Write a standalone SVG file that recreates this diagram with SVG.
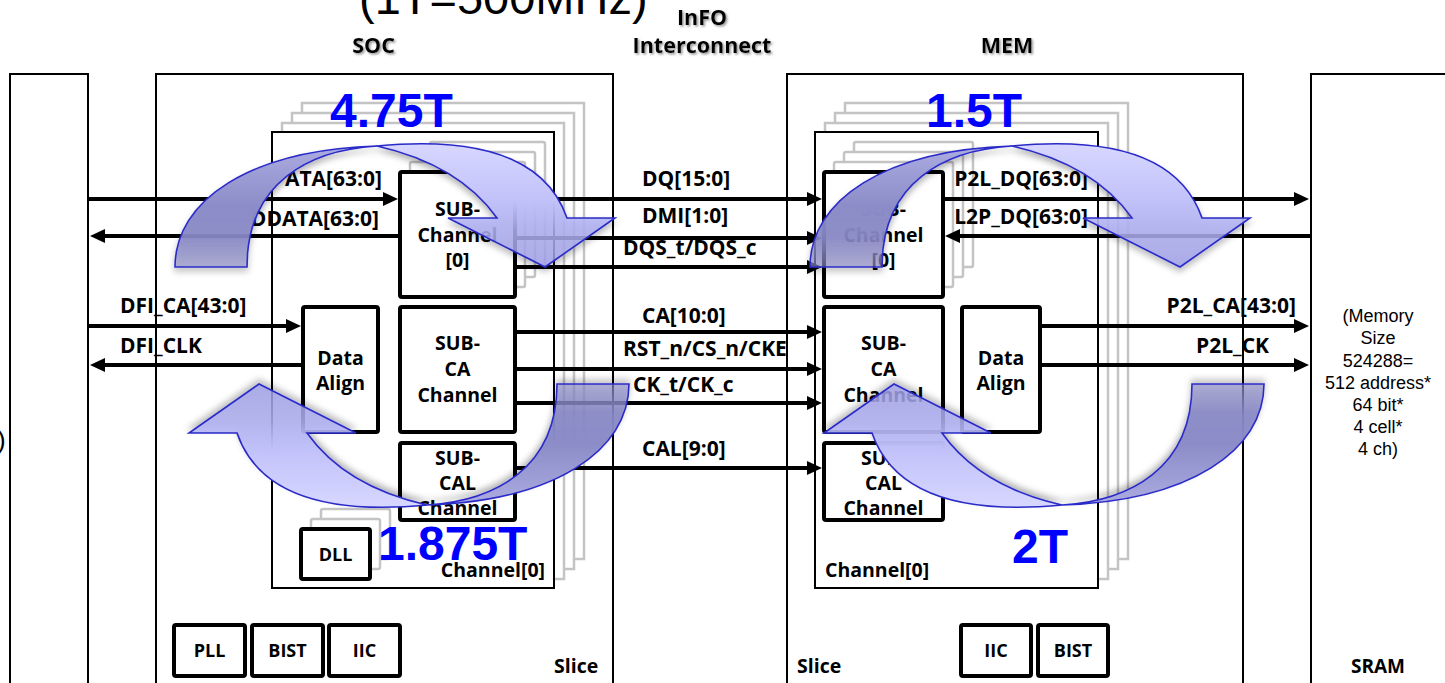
<svg xmlns="http://www.w3.org/2000/svg" width="1445" height="683" viewBox="0 0 1445 683">
<defs>
<style>
.frame{fill:none;stroke:#000;stroke-width:2}
.chan{fill:#fff;stroke:#000;stroke-width:2}
.ghost{fill:#fff;stroke:#c4c4c4;stroke-width:2.5}
.sub{fill:#fff;stroke:#000;stroke-width:4}
.sig{fill:none;stroke:#000;stroke-width:4}
.r{marker-end:url(#ah)}
text{font-family:"Open Sans","DejaVu Sans",sans-serif;font-weight:bold;fill:#000}
.lbl{font-size:21px}
.e{text-anchor:end}
.bl{font-size:19.5px;text-anchor:middle}
.hd{font-size:21.5px;text-anchor:middle;filter:url(#tsh)}
.ul{stroke:#000;stroke-width:2;filter:url(#tsh)}
.big{font-family:"Liberation Sans",Arial,sans-serif;font-size:48px;fill:#0000ff}
.note{font-family:"Liberation Sans",Arial,sans-serif;font-weight:normal;font-size:18px;text-anchor:middle}
.atail{fill:url(#gTail);stroke:#2b2bc8;stroke-width:1.6}
.ahead{fill:url(#gHead);stroke:#2b2bc8;stroke-width:1.6}
</style>
<marker id="ah" markerUnits="userSpaceOnUse" markerWidth="16" markerHeight="14" refX="7" refY="7" orient="auto"><path d="M0,0 L15,7 L0,14 z" fill="#000"/></marker>
<filter id="tsh" x="-10%" y="-30%" width="130%" height="170%"><feDropShadow dx="1.5" dy="1.5" stdDeviation="0.8" flood-color="#777" flood-opacity="0.8"/></filter>
<filter id="ash" x="-20%" y="-20%" width="140%" height="150%"><feDropShadow dx="0" dy="4" stdDeviation="3" flood-color="#000" flood-opacity="0.3"/></filter>
<linearGradient id="gTail" gradientUnits="userSpaceOnUse" x1="0" y1="146" x2="0" y2="267">
<stop offset="0" stop-color="#acace2"/>
<stop offset="0.5" stop-color="#8c8cc8"/>
<stop offset="0.75" stop-color="#8888c6" stop-opacity="0.92"/>
<stop offset="1" stop-color="#8c8cc8" stop-opacity="0.6"/>
</linearGradient>
<linearGradient id="gHead" gradientUnits="userSpaceOnUse" x1="0" y1="146" x2="0" y2="267">
<stop offset="0" stop-color="#d6d6ff"/>
<stop offset="0.45" stop-color="#c2c2fa"/>
<stop offset="0.7" stop-color="#aeaef0" stop-opacity="0.85"/>
<stop offset="1" stop-color="#a0a0e8" stop-opacity="0.8"/>
</linearGradient>
<g id="curveArrow" filter="url(#ash)">
<path class="atail" d="M175,267 C175,200 250,150 377,146 C310,150 247,182 247,267 Z"/>
<path class="ahead" d="M377,146 C440,140 540,140 567,218 L615,218 L545,267 L448,218 L497,218 C470,180 430,158 377,146 Z"/>
</g>
</defs>
<rect width="1445" height="683" fill="#fff"/>

<text x="359" y="14" style="font-family:'Liberation Sans',Arial,sans-serif;font-weight:normal;font-size:47px">(1T=500MHz)</text>

<g id="headings">
<text class="hd" x="373.5" y="53">SOC</text>
<line class="ul" x1="352" y1="59" x2="396" y2="59"/>
<text class="hd" x="702" y="25">InFO</text>
<line class="ul" x1="677" y1="31" x2="728" y2="31"/>
<text class="hd" x="702" y="53">Interconnect</text>
<line class="ul" x1="631" y1="59" x2="774" y2="59"/>
<text class="hd" x="1007" y="53">MEM</text>
<line class="ul" x1="982" y1="59" x2="1033" y2="59"/>
</g>

<g id="host">
<rect class="frame" x="10" y="74" width="78" height="640"/>
<text x="-3" y="449" style="font-family:'Liberation Sans',Arial,sans-serif;font-weight:normal;font-size:26px">)</text>
</g>

<g id="soc-slice">
<rect class="frame" x="156" y="74" width="457" height="640"/>
<text class="lbl" x="554" y="673" style="font-size:19.5px">Slice</text>
</g>
<g id="soc-channel">
<rect class="ghost" x="302" y="103" width="282" height="456"/>
<rect class="ghost" x="292" y="113" width="282" height="456"/>
<rect class="ghost" x="282" y="123" width="282" height="456"/>
<rect class="chan" x="272" y="132" width="282" height="456"/>
<text class="lbl e" x="545" y="577" style="font-size:19.5px">Channel[0]</text>
</g>
<g id="soc-sub0">
<rect class="ghost" x="430" y="142" width="115" height="125" rx="2"/>
<rect class="ghost" x="420" y="152" width="115" height="125" rx="2"/>
<rect class="ghost" x="410" y="162" width="115" height="125" rx="2"/>
<rect class="sub" x="400" y="172" width="115" height="125" rx="2"/>
<text class="bl" x="457.5" y="216">SUB-</text>
<text class="bl" x="457.5" y="242">Channel</text>
<text class="bl" x="457.5" y="267">[0]</text>
</g>
<g id="soc-align">
<rect class="sub" x="303" y="307" width="75" height="125" rx="2"/>
<text class="bl" x="340.5" y="365">Data</text>
<text class="bl" x="340.5" y="390">Align</text>
</g>
<g id="soc-subca">
<rect class="sub" x="400" y="307" width="115" height="125" rx="2"/>
<text class="bl" x="457.5" y="350">SUB-</text>
<text class="bl" x="457.5" y="376">CA</text>
<text class="bl" x="457.5" y="402">Channel</text>
</g>
<g id="soc-subcal">
<rect class="sub" x="400" y="443" width="115" height="77" rx="2"/>
<text class="bl" x="457.5" y="465">SUB-</text>
<text class="bl" x="457.5" y="490">CAL</text>
<text class="bl" x="457.5" y="515">Channel</text>
</g>
<g id="soc-dll">
<rect class="ghost" x="321" y="509" width="69" height="50" rx="2"/>
<rect class="ghost" x="311" y="519" width="69" height="50" rx="2"/>
<rect class="sub" x="301" y="529" width="69" height="50" rx="2"/>
<text class="bl" x="335.5" y="561" style="font-size:18px">DLL</text>
</g>
<g id="soc-pll"><rect class="sub" x="174" y="625" width="71" height="51" rx="2"/><text class="bl" x="209.5" y="657" style="font-size:18px">PLL</text></g>
<g id="soc-bist"><rect class="sub" x="252" y="625" width="71" height="51" rx="2"/><text class="bl" x="287.5" y="657" style="font-size:18px">BIST</text></g>
<g id="soc-iic"><rect class="sub" x="329" y="625" width="71" height="51" rx="2"/><text class="bl" x="364.5" y="657" style="font-size:18px">IIC</text></g>

<g id="mem-slice">
<rect class="frame" x="787" y="74" width="456" height="640"/>
<text class="lbl" x="797" y="673" style="font-size:19.5px">Slice</text>
</g>
<g id="mem-channel">
<rect class="ghost" x="845" y="103" width="283" height="456"/>
<rect class="ghost" x="835" y="113" width="283" height="456"/>
<rect class="ghost" x="825" y="123" width="283" height="456"/>
<rect class="chan" x="815" y="132" width="283" height="456"/>
<text class="lbl" x="825" y="577" style="font-size:19.5px">Channel[0]</text>
</g>
<g id="mem-sub0">
<rect class="ghost" x="854" y="142" width="119" height="125" rx="2"/>
<rect class="ghost" x="844" y="152" width="119" height="125" rx="2"/>
<rect class="ghost" x="834" y="162" width="119" height="125" rx="2"/>
<rect class="sub" x="824" y="172" width="119" height="125" rx="2"/>
<text class="bl" x="883.5" y="216">SUB-</text>
<text class="bl" x="883.5" y="242">Channel</text>
<text class="bl" x="883.5" y="267">[0]</text>
</g>
<g id="mem-subca">
<rect class="sub" x="824" y="307" width="119" height="125" rx="2"/>
<text class="bl" x="883.5" y="350">SUB-</text>
<text class="bl" x="883.5" y="376">CA</text>
<text class="bl" x="883.5" y="402">Channel</text>
</g>
<g id="mem-subcal">
<rect class="sub" x="824" y="443" width="119" height="77" rx="2"/>
<text class="bl" x="883.5" y="465">SUB-</text>
<text class="bl" x="883.5" y="490">CAL</text>
<text class="bl" x="883.5" y="515">Channel</text>
</g>
<g id="mem-align">
<rect class="sub" x="962" y="307" width="78" height="125" rx="2"/>
<text class="bl" x="1001" y="365">Data</text>
<text class="bl" x="1001" y="390">Align</text>
</g>
<g id="mem-iic"><rect class="sub" x="961" y="625" width="70" height="51" rx="2"/><text class="bl" x="996" y="657" style="font-size:18px">IIC</text></g>
<g id="mem-bist"><rect class="sub" x="1038" y="625" width="70" height="51" rx="2"/><text class="bl" x="1073" y="657" style="font-size:18px">BIST</text></g>

<g id="sram">
<rect class="frame" x="1311" y="74" width="160" height="640"/>
<text class="lbl" x="1378" y="673" style="text-anchor:middle;font-size:19px">SRAM</text>
<text class="note" x="1378" y="322">(Memory</text>
<text class="note" x="1378" y="344">Size</text>
<text class="note" x="1378" y="367">524288=</text>
<text class="note" x="1378" y="389">512 address*</text>
<text class="note" x="1378" y="411">64 bit*</text>
<text class="note" x="1378" y="433">4 cell*</text>
<text class="note" x="1378" y="455">4 ch)</text>
</g>

<g id="connectors">
<line class="sig r" x1="88" y1="199" x2="390" y2="199"/>
<line class="sig r" x1="400" y1="236" x2="98" y2="236"/>
<line class="sig r" x1="88" y1="326" x2="293" y2="326"/>
<line class="sig r" x1="303" y1="365" x2="98" y2="365"/>
<line class="sig r" x1="515" y1="199" x2="814" y2="199"/>
<line class="sig r" x1="515" y1="238" x2="814" y2="238"/>
<line class="sig r" x1="515" y1="267" x2="814" y2="267"/>
<line class="sig r" x1="515" y1="332" x2="814" y2="332"/>
<line class="sig r" x1="515" y1="369" x2="814" y2="369"/>
<line class="sig r" x1="515" y1="403" x2="814" y2="403"/>
<line class="sig r" x1="515" y1="468" x2="814" y2="468"/>
<line class="sig r" x1="943" y1="199" x2="1301" y2="199"/>
<line class="sig r" x1="1311" y1="236" x2="953" y2="236"/>
<line class="sig r" x1="1040" y1="326" x2="1301" y2="326"/>
<line class="sig r" x1="1040" y1="365" x2="1301" y2="365"/>
</g>

<g id="signal-labels">
<text class="lbl e" x="382" y="186">ATA[63:0]</text>
<text class="lbl e" x="379" y="226">DDATA[63:0]</text>
<text class="lbl" x="120" y="313">DFI_CA[43:0]</text>
<text class="lbl" x="120" y="353">DFI_CLK</text>
<text class="lbl" x="642" y="186">DQ[15:0]</text>
<text class="lbl" x="642" y="223">DMI[1:0]</text>
<text class="lbl" x="623" y="255">DQS_t/DQS_c</text>
<text class="lbl" x="642" y="323">CA[10:0]</text>
<text class="lbl" x="623" y="356">RST_n/CS_n/CKE</text>
<text class="lbl" x="633" y="392">CK_t/CK_c</text>
<text class="lbl" x="642" y="456">CAL[9:0]</text>
<text class="lbl e" x="1088" y="186">P2L_DQ[63:0]</text>
<text class="lbl e" x="1088" y="224">L2P_DQ[63:0]</text>
<text class="lbl e" x="1296" y="313">P2L_CA[43:0]</text>
<text class="lbl e" x="1269" y="353">P2L_CK</text>
</g>

<g id="throughput-arrows">
<use href="#curveArrow"/>
<use href="#curveArrow" transform="translate(635,0)"/>
<use href="#curveArrow" transform="rotate(180 402 325.5)"/>
<use href="#curveArrow" transform="translate(635,0) rotate(180 402 325.5)"/>
</g>

<g id="rates">
<text class="big" x="330" y="127">4.75T</text>
<text class="big" x="926" y="127">1.5T</text>
<text class="big" x="378" y="560">1.875T</text>
<text class="big" x="1012" y="563">2T</text>
</g>
</svg>
